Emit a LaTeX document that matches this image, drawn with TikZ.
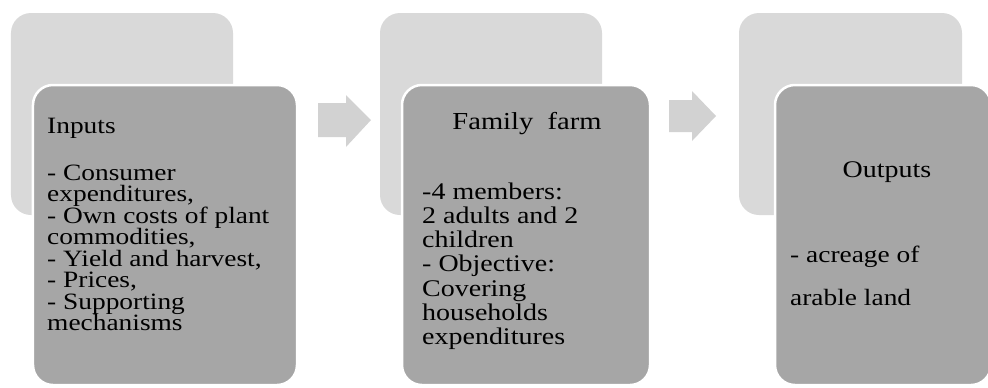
\documentclass[tikz,border=0pt]{standalone}
\usepackage{fontspec}
\setmainfont{Liberation Serif}[FakeStretch=1.17]
\usetikzlibrary{positioning}
\definecolor{backgray}{RGB}{217,217,217}
\definecolor{frontgray}{RGB}{166,166,166}
\definecolor{arrowgray}{RGB}{210,210,210}
\begin{document}
\begin{tikzpicture}[x=1bp,y=-1bp,
  backbox/.style={fill=backgray,rounded corners=20bp,minimum width=222bp,minimum height=202bp,inner sep=0pt},
  frontbox/.style={fill=frontgray,draw=white,line width=2.5bp,rounded corners=20bp,minimum height=300bp,inner sep=0pt},
  boxtext/.style={anchor=north west,inner sep=0pt,align=left},
  headtext/.style={anchor=base,inner sep=0pt,font=\fontsize{24.5}{26}\selectfont}]
%%
\useasboundingbox (0,0) rectangle (988,387);
\node (back_1) at (122,114) [backbox] {};
  \node (back_2) at (491,114) [backbox] {};
  \node (back_3) at (850.5,114) [backbox,minimum width=223bp] {};
  \node (front_1) at (165,235) [frontbox,minimum width=264bp] {};
  \node (front_2) at (526,235) [frontbox,minimum width=248bp] {};
  \node (front_3) at (883,235) [frontbox,minimum width=216bp] {};
%
\fill [arrowgray] (318,103) -- (346,103) -- (346,95) -- (371,120) -- (346,147) -- (346,137) -- (318,137) -- cycle;
  \fill [arrowgray] (669,100) -- (692,100) -- (692,91) -- (716,116) -- (692,141) -- (692,132) -- (669,132) -- cycle;
%
\node (text_1) at (47,117.5) [boxtext,font=\fontsize{23.5}{21.6}\selectfont]
  {Inputs\\[25.5bp]- Consumer\\expenditures,\\- Own costs of plant\\commodities,\\- Yield and harvest,\\- Prices,\\- Supporting\\mechanisms};
  \node (head_2) at (527,129) [headtext] {Family\ \ farm};
  \node (text_2) at (422,182.5) [boxtext,font=\fontsize{24}{24.3}\selectfont]
  {-4 members:\\2 adults and 2\\children\\- Objective:\\Covering\\households\\expenditures};
  \node (head_3) at (887,177) [headtext,font=\fontsize{24}{26}\selectfont] {Outputs};
  \node (text_3) at (790,246) [boxtext,font=\fontsize{23.5}{43}\selectfont]
  {- acreage of\\arable land};
%
\end{tikzpicture}
\end{document}
